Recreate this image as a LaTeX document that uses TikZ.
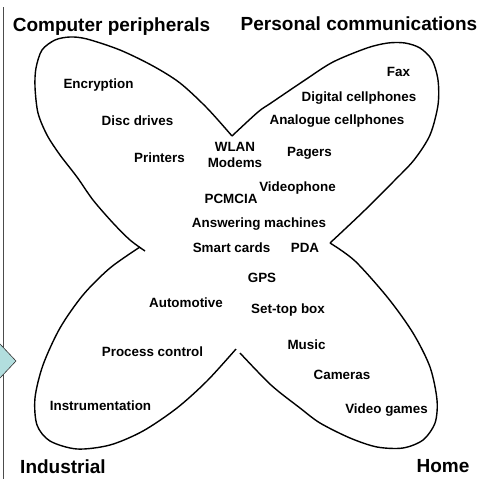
\documentclass[tikz,border=0pt]{standalone}
\usepackage{fontspec}
\setmainfont{Liberation Sans}
\usepackage{tikz}

\definecolor{tipblue}{RGB}{178,222,222}
\tikzset{
  item/.style={font=\bfseries\fontsize{13.4}{16}\selectfont, anchor=base, inner sep=0pt},
  market/.style={font=\bfseries\fontsize{19}{22}\selectfont, anchor=base, inner sep=0pt},
  lobe/.style={line width=1.4pt, line join=miter},
}

\begin{document}
\begin{tikzpicture}[x=1pt,y=-1pt]
\useasboundingbox (0,0) rectangle (478,479);
\draw[black!70, line width=0.8pt] (3,7) -- (3,479);
\begin{scope}
\clip (0,0) rectangle (478,479);
\filldraw[fill=tipblue, draw=black!80, line width=0.6pt] (-17,361) -- (0,344) -- (16,361) -- (0,378) -- cycle;
\end{scope}
\draw[lobe] plot[smooth] coordinates {(145,251) (130,240) (113,223) (93,200) (77,177) (60,155) (47,135) (38,113) (35,87) (36,68) (42,50) (55,40) (70,37) (87,39) (120,50) (153,66) (180,83) (207,108) (232,136)};
\draw[lobe] plot[smooth] coordinates {(232,136) (258,112) (271,103) (305,80) (333,62) (367,48) (388,43) (405,43) (420,48) (432,60) (438,80) (438,105) (430,135) (414,160) (393,182) (365,210) (345,229) (330,243)};
\draw[lobe] plot[smooth] coordinates {(330,243) (355,261) (388,298) (413,333) (430,367) (437,400) (435,423) (423,440) (403,448) (377,447) (350,438) (320,423) (300,408) (271,385) (240,353)};
\draw[lobe] plot[smooth] coordinates {(236,349) (207,381) (177,408) (143,431) (110,445) (77,449) (50,441) (37,425) (35,398) (43,365) (60,328) (83,295) (110,268) (140,247)};
\node[market] (peripherals) at (111.5,31) {Computer peripherals};
\node[market] (personal) at (359,30) {Personal communications};
\node[market] (industrial) at (63,473) {Industrial};
\node[market] (home) at (443,472) {Home};
\node[item, anchor=center, align=center] (wlan) at (235,155) {WLAN\\Modems};
\foreach \n/\x/\y/\t in {encryption/98.5/88/Encryption, discdrives/137.5/125/Disc drives,
  printers/159.5/162/Printers, pcmcia/231/203/PCMCIA, videophone/297.5/191/Videophone,
  answering/259/227/Answering machines, fax/398.5/76/Fax, digital/359/101/Digital cellphones,
  analogue/337/124/Analogue cellphones, pagers/309.5/156/Pagers, smartcards/231.5/252/Smart cards,
  pda/305/252/PDA, gps/262/282/GPS, settop/288/313/Set-top box, automotive/186/307/Automotive,
  process/152.5/356/Process control, instrumentation/100.5/410/Instrumentation,
  music/306.5/349/Music, cameras/342/379/Cameras, videogames/386.5/413/Video games}
  {\node[item] (\n) at (\x,\y) {\t};}
\end{tikzpicture}
\end{document}
